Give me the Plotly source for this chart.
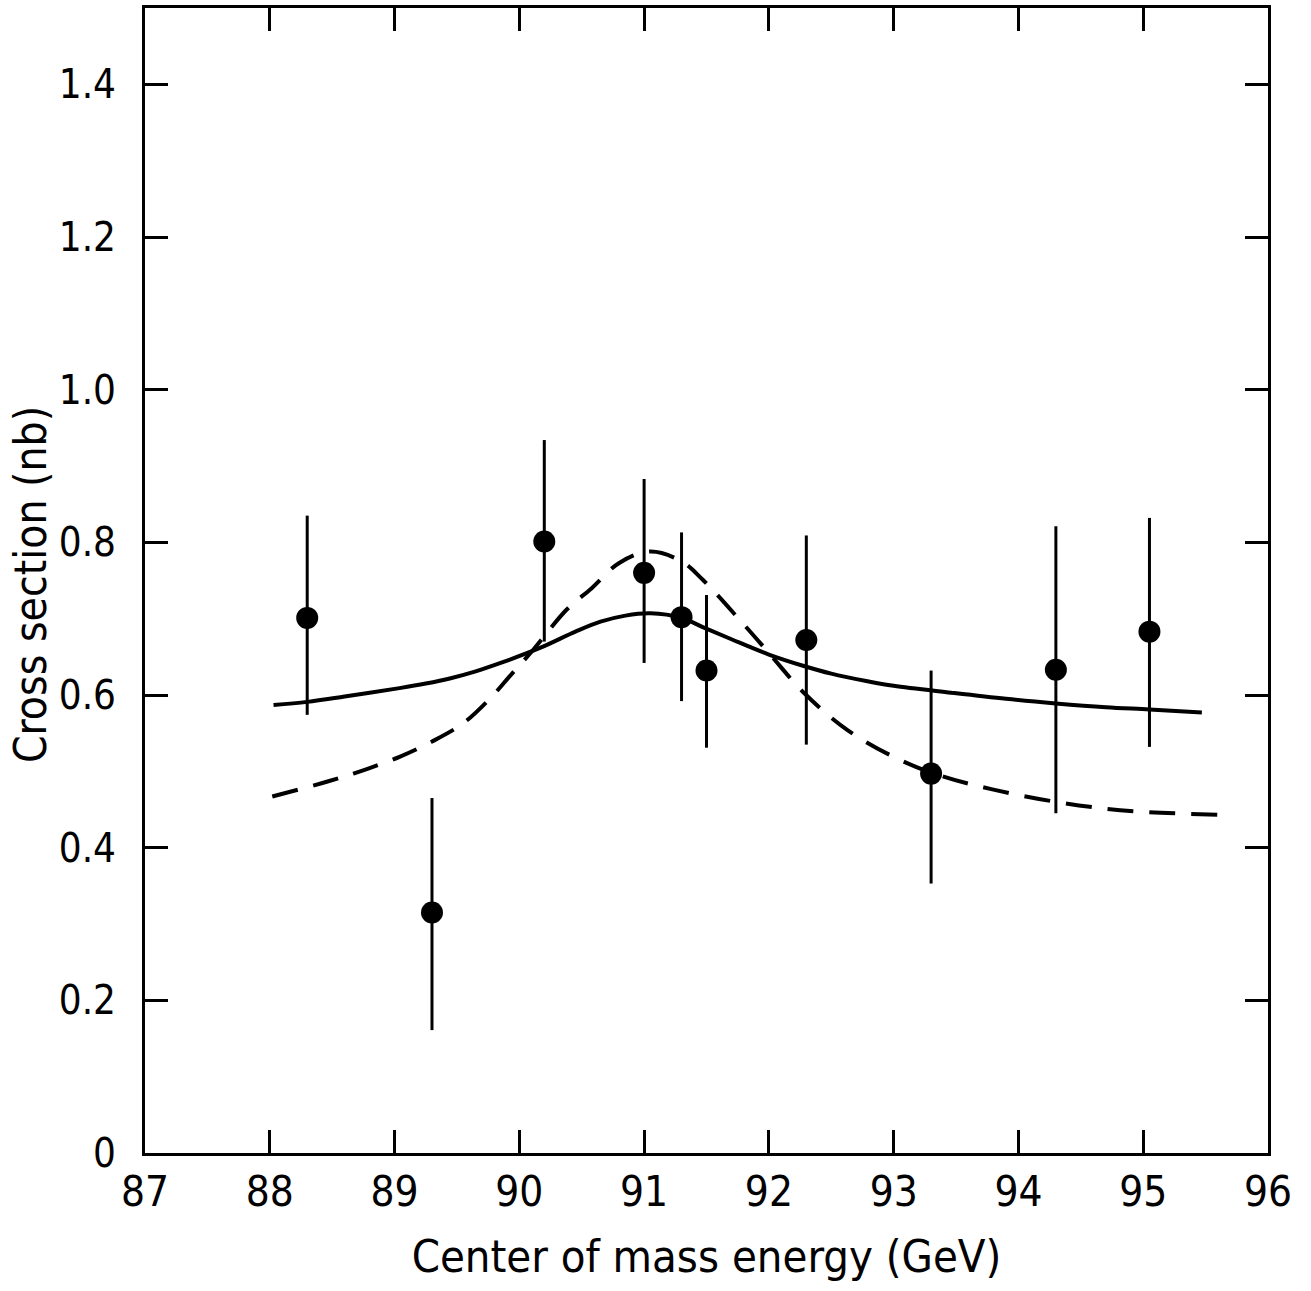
import plotly.graph_objects as go

# Measured data points
energy = [88.3, 89.3, 90.2, 91.0, 91.3, 91.5, 92.3, 93.3, 94.3, 95.05]
xsec = [0.701, 0.315, 0.801, 0.760, 0.702, 0.632, 0.672, 0.497, 0.633, 0.683]
err_up = [0.835, 0.465, 0.934, 0.883, 0.813, 0.731, 0.809, 0.632, 0.821, 0.832]
err_lo = [0.574, 0.161, 0.670, 0.642, 0.592, 0.531, 0.535, 0.353, 0.445, 0.532]

# Solid curve
solid_x = [88.03, 88.3, 88.6, 89.04, 89.25, 89.45, 89.65, 89.85, 90.17, 90.45, 90.65, 90.85,
           91.05, 91.3, 91.47, 91.7, 92.0, 92.28, 92.5, 92.79, 93.0, 93.46, 93.9, 94.3,
           94.7, 95.05, 95.47]
solid_y = [0.587, 0.591, 0.598, 0.609, 0.615, 0.622, 0.631, 0.642, 0.662, 0.683, 0.696, 0.704,
           0.707, 0.701, 0.689, 0.673, 0.653, 0.638, 0.628, 0.618, 0.612, 0.603, 0.595, 0.589,
           0.584, 0.581, 0.577]

# Dashed curve
dashed_x = [88.02, 88.47, 88.76, 89.04, 89.30, 89.55, 89.78, 89.92, 90.11, 90.38, 90.58, 90.8,
            91.05, 91.3, 91.47, 91.79, 92.0, 92.28, 92.63, 93.05, 93.4, 93.8, 94.3, 94.7,
            95.0, 95.6]
dashed_y = [0.467, 0.487, 0.502, 0.519, 0.539, 0.563, 0.598, 0.624, 0.659, 0.712, 0.740, 0.773,
            0.788, 0.775, 0.751, 0.694, 0.655, 0.603, 0.554, 0.515, 0.493, 0.476, 0.460, 0.451,
            0.447, 0.443]

x_ticks = [87, 88, 89, 90, 91, 92, 93, 94, 95, 96]
y_ticks = [0, 0.2, 0.4, 0.6, 0.8, 1.0, 1.2, 1.4]
y_tick_text = ["0", "0.2", "0.4", "0.6", "0.8", "1.0", "1.2", "1.4"]
x_title = "Center of mass energy (GeV)"
y_title = "Cross section (nb)"

FONT = "DejaVu Sans Condensed, sans-serif"

fig = go.Figure()
fig.add_trace(go.Scatter(x=solid_x, y=solid_y, mode="lines",
                         line=dict(color="black", width=4, shape="spline", smoothing=1.0),
                         showlegend=False, hoverinfo="skip"))
fig.add_trace(go.Scatter(x=dashed_x, y=dashed_y, mode="lines",
                         line=dict(color="black", width=4, shape="spline", smoothing=1.0,
                                   dash="26px,16px"),
                         showlegend=False, hoverinfo="skip"))
fig.add_trace(go.Scatter(
    x=energy, y=xsec, mode="markers",
    marker=dict(color="black", size=22),
    error_y=dict(type="data", symmetric=False,
                 array=[u - v for u, v in zip(err_up, xsec)],
                 arrayminus=[v - l for v, l in zip(xsec, err_lo)],
                 color="black", thickness=3, width=0),
    showlegend=False))

fig.update_layout(
    width=1311, height=1291,
    margin=dict(l=145, r=43, t=8, b=138),
    plot_bgcolor="white", paper_bgcolor="white",
    font=dict(family=FONT, color="black", size=42),
    xaxis=dict(range=[87, 96], tickvals=x_ticks, ticktext=[str(t) for t in x_ticks],
               ticks="inside", ticklen=23, tickwidth=3, tickcolor="black",
               showline=True, linewidth=3, linecolor="black", mirror="ticks",
               showgrid=False, zeroline=False, automargin=False,
               tickfont=dict(size=42, family=FONT),
               title=dict(text=x_title, font=dict(size=45, family=FONT), standoff=26)),
    yaxis=dict(range=[0, 1.5], tickvals=y_ticks, ticktext=y_tick_text,
               ticks="inside", ticklen=23, tickwidth=3, tickcolor="black",
               showline=True, linewidth=3, linecolor="black", mirror="ticks",
               showgrid=False, zeroline=False, ticklabelstandoff=18, automargin=False,
               tickfont=dict(size=40, family=FONT)),
    annotations=[dict(text=y_title, textangle=-90, xref="paper", yref="paper",
                      x=(30 - 145) / 1123, y=0.496, xanchor="center", yanchor="middle",
                      showarrow=False, font=dict(size=44, family=FONT, color="black"))],
)

fig.write_html("out.html", config={"displayModeBar": False},
               post_script="document.body.style.margin='0';")
